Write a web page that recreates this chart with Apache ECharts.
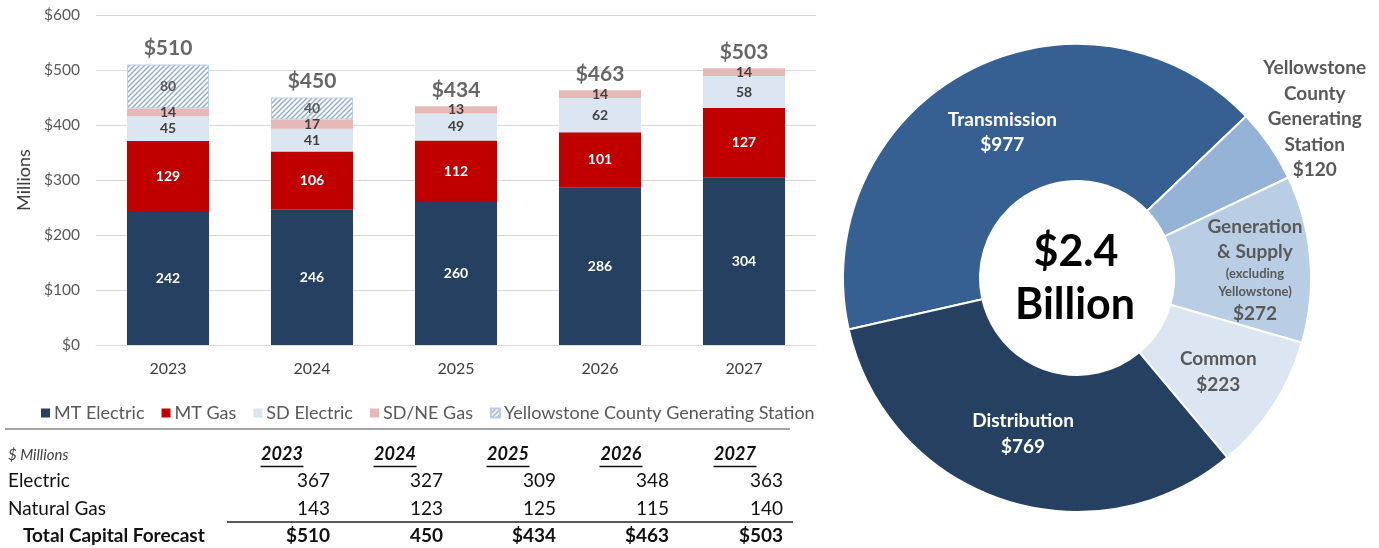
<!DOCTYPE html>
<html>
<head>
<meta charset="utf-8">
<script src="https://cdn.jsdelivr.net/npm/echarts@6/dist/echarts.min.js"></script>
<style>
html,body{margin:0;padding:0;background:#fff;}
#main{width:1379px;height:548px;}
</style>
</head>
<body>
<div id="main"></div>
<script>
// ---------- data ----------
const years = ['2023', '2024', '2025', '2026', '2027'];
const mtElectric = [242, 246, 260, 286, 304];
const mtGas = [129, 106, 112, 101, 127];
const sdElectric = [45, 41, 49, 62, 58];
const sdNeGas = [14, 17, 13, 14, 14];
const yellowstone = [80, 40, 0, 0, 0];
const totals = [510, 450, 434, 463, 503];
const yTicks = ['$0', '$100', '$200', '$300', '$400', '$500', '$600'];

const tableYears = ['2023', '2024', '2025', '2026', '2027'];
const tableElectric = ['367', '327', '309', '348', '363'];
const tableGas = ['143', '123', '125', '115', '140'];
const tableTotal = ['$510', '450', '$434', '$463', '$503'];

const pieNames = ['Transmission', 'Yellowstone County Generating Station', 'Generation & Supply', 'Common', 'Distribution'];
const pieValues = [977, 120, 272, 223, 769];
const centerText = ['$2.4', 'Billion'];

// ---------- styles ----------
const FONT = 'Lato, "Open Sans", sans-serif';
const C_MTE = '#264061', C_MTG = '#C00000', C_SDE = '#DCE6F2', C_SDG = '#E6B9B8';
const pieColors = ['#376092', '#95B3D7', '#B9CDE5', '#DCE6F2', '#264061'];

function hatch() {
  const s = 5;
  const c = document.createElement('canvas'); c.width = s; c.height = s;
  const g = c.getContext('2d');
  g.fillStyle = '#fff'; g.fillRect(0, 0, s, s);
  g.strokeStyle = '#8FAAD0'; g.lineWidth = 1.4;
  g.beginPath();
  g.moveTo(-1, s + 1); g.lineTo(s + 1, -1);
  g.moveTo(-1, 1); g.lineTo(1, -1);
  g.moveTo(s - 1, s + 1); g.lineTo(s + 1, s - 1);
  g.stroke();
  return c;
}
const hatchFill = { image: hatch(), repeat: 'repeat' };

function segLabel(color) {
  return {
    show: true, position: 'inside', color: color, fontFamily: FONT,
    fontWeight: 'bold', fontSize: 14,
    formatter: p => (p.value ? String(p.value) : '')
  };
}
function seg(name, data, color, labelColor, extra) {
  return Object.assign({
    name: name, type: 'bar', stack: 'cap', barWidth: '57%',
    data: data.map(v => (v ? v : '-')),
    itemStyle: { color: color },
    label: segLabel(labelColor),
    emphasis: { disabled: true }
  }, extra || {});
}

const pieLabelShift = [[5, 3], [99, -63], [10, 6], [0, 2], [0, -4]];

const series = [
  seg('MT Electric', mtElectric, C_MTE, '#fff'),
  seg('MT Gas', mtGas, C_MTG, '#fff'),
  seg('SD Electric', sdElectric, C_SDE, '#404040'),
  seg('SD/NE Gas', sdNeGas, C_SDG, '#404040'),
  seg('Yellowstone County Generating Station', yellowstone, hatchFill, '#595959',
      { itemStyle: { color: hatchFill, borderColor: '#B9CDE5', borderWidth: 1 } }),
  {
    name: 'total', type: 'scatter', data: totals, symbolSize: 0, silent: true,
    label: { show: true, position: 'top', distance: 6, formatter: p => '$' + p.value,
      fontFamily: FONT, fontWeight: 'bold', fontSize: 21, color: '#404040' }
  },
  {
    name: 'pie', type: 'pie', center: [1077, 278], radius: [97, 234],
    startAngle: 192.7, clockwise: true, silent: true,
    itemStyle: { borderColor: '#fff', borderWidth: 2 },
    data: pieNames.map((n, i) => ({ name: n, value: pieValues[i], itemStyle: { color: pieColors[i] } })),
    label: {
      show: true, position: 'inside', fontFamily: FONT, fontWeight: 'bold', fontSize: 19,
      lineHeight: 25.5, color: '#595959',
      formatter: p => {
        const v = '$' + p.value;
        if (p.dataIndex === 0 || p.dataIndex === 4) return '{w|' + p.name + '}\n{w|' + v + '}';
        if (p.dataIndex === 1) return 'Yellowstone\nCounty\nGenerating\nStation\n' + v;
        if (p.dataIndex === 2) return 'Generation\n& Supply\n{s|(excluding}\n{s|Yellowstone)}\n' + v;
        return p.name + '\n' + v;
      },
      rich: {
        w: { color: '#fff', fontFamily: FONT, fontWeight: 'bold', fontSize: 19, lineHeight: 25.5 },
        s: { color: '#595959', fontFamily: FONT, fontWeight: 'bold', fontSize: 13, lineHeight: 18 }
      }
    },
    labelLayout: function (p) {
      if (p.seriesIndex !== 6) return {};
      const d = pieLabelShift[p.dataIndex];
      return { dx: d[0], dy: d[1] };
    },
    labelLine: { show: false }
  }
];

// ---------- table graphic ----------
const colRight = [330, 443, 556, 669, 783];
const colCenter = [282, 395, 508, 621, 735];
const graphics = [];
function txt(x, y, s, opt) {
  graphics.push({ type: 'text', x: x, y: y, silent: true,
    style: Object.assign({ text: s, fontFamily: FONT, fontSize: 19, fill: '#111',
      verticalAlign: 'middle' }, opt || {}) });
}
function line(x1, y1, x2, y2, stroke, w) {
  graphics.push({ type: 'line', silent: true, shape: { x1: x1, y1: y1, x2: x2, y2: y2 },
    style: { stroke: stroke, lineWidth: w } });
}
line(5, 429, 790, 429, '#A6A6A6', 2);
txt(8, 455, '$ Millions', { fontStyle: 'italic', fontSize: 15, fill: '#404040' });
tableYears.forEach((y, i) => {
  txt(colCenter[i], 454, y, { fontStyle: 'italic', fontWeight: 'bold', fontSize: 18, align: 'center' });
  line(colCenter[i] - 21.5, 466.5, colCenter[i] + 21.5, 466.5, '#111', 1.3);
});
txt(8, 481, 'Electric');
txt(8, 509, 'Natural Gas');
txt(23, 536, 'Total Capital Forecast', { fontWeight: 'bold' });
tableElectric.forEach((v, i) => txt(colRight[i], 481, v, { align: 'right' }));
tableGas.forEach((v, i) => txt(colRight[i], 509, v, { align: 'right' }));
line(227, 522, 793, 522, '#222', 1.3);
tableTotal.forEach((v, i) => txt(colRight[i], 536, v, { align: 'right', fontWeight: 'bold' }));
// center of donut
txt(1076, 252, centerText[0], { fontSize: 43, fontWeight: 'bold', fill: '#000', align: 'center' });
txt(1075, 305, centerText[1], { fontSize: 43, fontWeight: 'bold', fill: '#000', align: 'center' });

const chart = echarts.init(document.getElementById('main'), null, { renderer: 'canvas' });
chart.setOption({
  animation: false,
  backgroundColor: '#fff',
  textStyle: { fontFamily: FONT },
  grid: { left: 96, width: 720, top: 15, height: 330, containLabel: false },
  legend: {
    data: ['MT Electric', 'MT Gas', 'SD Electric', 'SD/NE Gas', 'Yellowstone County Generating Station'],
    left: 36, top: 399, itemWidth: 9, itemHeight: 9, itemGap: 17, icon: 'rect',
    textStyle: { fontFamily: FONT, fontSize: 18, color: '#595959', padding: [0, 0, 0, -1] },
    selectedMode: false
  },
  xAxis: {
    type: 'category', data: years,
    axisLine: { lineStyle: { color: '#D9D9D9' } }, axisTick: { show: false },
    axisLabel: { fontFamily: FONT, fontSize: 16, color: '#404040', margin: 16 }
  },
  yAxis: {
    type: 'value', min: 0, max: 600, interval: 100,
    name: 'Millions', nameLocation: 'middle', nameGap: 60, nameRotate: 90,
    nameTextStyle: { fontFamily: FONT, fontSize: 18, color: '#404040' },
    axisLine: { show: false }, axisTick: { show: false },
    splitLine: { lineStyle: { color: '#D9D9D9' } },
    axisLabel: { fontFamily: FONT, fontSize: 15.5, color: '#595959', margin: 16,
      formatter: (v) => yTicks[Math.round(v / 100)] }
  },
  graphic: graphics,
  series: series
});
</script>
</body>
</html>
